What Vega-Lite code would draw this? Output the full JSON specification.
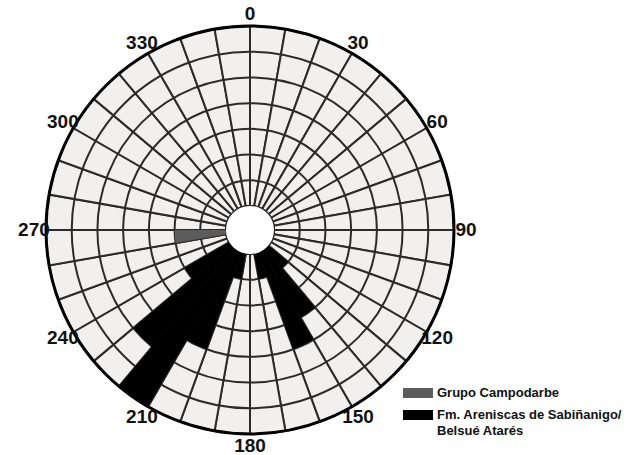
{
  "$schema": "https://vega.github.io/schema/vega-lite/v6.json",
  "width": 500,
  "height": 460,
  "autosize": {"type": "none"},
  "padding": {"left": 0, "top": 0, "right": 132, "bottom": 0},
  "background": "white",
  "config": {"view": {"stroke": null}, "style": {"guide-label": {"lineHeight": 16}}},
  "datasets": {
    "sectors": [
      {"a": 0, "b": 10}, {"a": 10, "b": 20}, {"a": 20, "b": 30}, {"a": 30, "b": 40},
      {"a": 40, "b": 50}, {"a": 50, "b": 60}, {"a": 60, "b": 70}, {"a": 70, "b": 80},
      {"a": 80, "b": 90}, {"a": 90, "b": 100}, {"a": 100, "b": 110}, {"a": 110, "b": 120},
      {"a": 120, "b": 130}, {"a": 130, "b": 140}, {"a": 140, "b": 150}, {"a": 150, "b": 160},
      {"a": 160, "b": 170}, {"a": 170, "b": 180}, {"a": 180, "b": 190}, {"a": 190, "b": 200},
      {"a": 200, "b": 210}, {"a": 210, "b": 220}, {"a": 220, "b": 230}, {"a": 230, "b": 240},
      {"a": 240, "b": 250}, {"a": 250, "b": 260}, {"a": 260, "b": 270}, {"a": 270, "b": 280},
      {"a": 280, "b": 290}, {"a": 290, "b": 300}, {"a": 300, "b": 310}, {"a": 310, "b": 320},
      {"a": 320, "b": 330}, {"a": 330, "b": 340}, {"a": 340, "b": 350}, {"a": 350, "b": 360}
    ],
    "rings": [{"ring": 1}, {"ring": 2}, {"ring": 3}, {"ring": 4}, {"ring": 5}, {"ring": 6}],
    "bars": [
      {"a": 260, "b": 270, "v": 2, "group": "Grupo Campodarbe"},
      {"a": 130, "b": 140, "v": 1, "group": "Fm. Areniscas de Sabiñanigo/ Belsué Atarés"},
      {"a": 140, "b": 150, "v": 3, "group": "Fm. Areniscas de Sabiñanigo/ Belsué Atarés"},
      {"a": 150, "b": 160, "v": 4, "group": "Fm. Areniscas de Sabiñanigo/ Belsué Atarés"},
      {"a": 160, "b": 170, "v": 1, "group": "Fm. Areniscas de Sabiñanigo/ Belsué Atarés"},
      {"a": 190, "b": 200, "v": 1, "group": "Fm. Areniscas de Sabiñanigo/ Belsué Atarés"},
      {"a": 200, "b": 210, "v": 4, "group": "Fm. Areniscas de Sabiñanigo/ Belsué Atarés"},
      {"a": 210, "b": 220, "v": 7, "group": "Fm. Areniscas de Sabiñanigo/ Belsué Atarés"},
      {"a": 220, "b": 230, "v": 5, "group": "Fm. Areniscas de Sabiñanigo/ Belsué Atarés"},
      {"a": 230, "b": 240, "v": 2, "group": "Fm. Areniscas de Sabiñanigo/ Belsué Atarés"}
    ],
    "labels": [
      {"angle": 0, "label": "0"}, {"angle": 30, "label": "30"}, {"angle": 60, "label": "60"},
      {"angle": 90, "label": "90"}, {"angle": 120, "label": "120"}, {"angle": 150, "label": "150"},
      {"angle": 180, "label": "180"}, {"angle": 210, "label": "210"}, {"angle": 240, "label": "240"},
      {"angle": 270, "label": "270"}, {"angle": 300, "label": "300"}, {"angle": 330, "label": "330"}
    ]
  },
  "layer": [
    {
      "data": {"name": "sectors"},
      "mark": {"type": "arc", "fill": "#f1f0ee", "stroke": "#2b2b2b", "strokeWidth": 2},
      "encoding": {
        "theta": {"field": "a", "type": "quantitative", "stack": false, "scale": {"domain": [0, 360], "range": [0, 6.283185307179586]}},
        "theta2": {"field": "b"},
        "radius": {"datum": 7, "type": "quantitative", "scale": {"type": "linear", "domain": [0, 7], "range": [24, 204]}},
        "radius2": {"datum": 0}
      }
    },
    {
      "data": {"name": "rings"},
      "mark": {"type": "arc", "fill": null, "stroke": "#2b2b2b", "strokeWidth": 2},
      "encoding": {
        "theta": {"datum": 0, "type": "quantitative"},
        "theta2": {"datum": 360},
        "radius": {"field": "ring", "type": "quantitative"},
        "radius2": {"datum": 0}
      }
    },
    {
      "data": {"name": "bars"},
      "mark": {"type": "arc"},
      "encoding": {
        "theta": {"field": "a", "type": "quantitative", "stack": false},
        "theta2": {"field": "b"},
        "radius": {"field": "v", "type": "quantitative"},
        "radius2": {"datum": 0},
        "color": {
          "field": "group",
          "type": "nominal",
          "scale": {"domain": ["Grupo Campodarbe", "Fm. Areniscas de Sabiñanigo/ Belsué Atarés"], "range": ["#5c5c5c", "#000000"]},
          "legend": {
            "title": null,
            "orient": "none",
            "legendX": 403,
            "legendY": 378,
            "padding": 0,
            "symbolType": "M-1,-0.3333H1V0.3333H-1Z",
            "symbolSize": 900,
            "symbolStrokeWidth": 0,
            "symbolOpacity": 1,
            "rowPadding": -15,
            "labelFont": "Liberation Sans",
            "labelFontWeight": "bold",
            "labelFontSize": 13,
            "labelColor": "#111111",
            "labelLimit": 400,
            "labelOffset": 4,
            "labelExpr": "indexof(datum.label, '/') > 0 ? [slice(datum.label, 0, indexof(datum.label, '/') + 1), slice(datum.label, indexof(datum.label, '/') + 2)] : datum.label"
          }
        }
      }
    },
    {
      "data": {"values": [{"c": 1}]},
      "mark": {"type": "arc", "fill": "#ffffff", "radius2": 0},
      "encoding": {
        "theta": {"datum": 0, "type": "quantitative"},
        "theta2": {"datum": 360},
        "radius": {"datum": 0, "type": "quantitative"}
      }
    },
    {
      "data": {"values": [{"c": 1}]},
      "mark": {"type": "arc", "fill": null, "stroke": "#000000", "strokeWidth": 3, "radius2": 0},
      "encoding": {
        "theta": {"datum": 0, "type": "quantitative"},
        "theta2": {"datum": 360},
        "radius": {"datum": 7, "type": "quantitative"}
      }
    },
    {
      "data": {"name": "labels"},
      "mark": {"type": "text", "font": "Liberation Sans", "fontWeight": "bold", "fontSize": 19, "color": "#111111", "align": "center", "baseline": "middle"},
      "encoding": {
        "theta": {"field": "angle", "type": "quantitative", "stack": false},
        "radius": {"datum": 7.47, "type": "quantitative"},
        "text": {"field": "label", "type": "nominal"}
      }
    }
  ]
}
